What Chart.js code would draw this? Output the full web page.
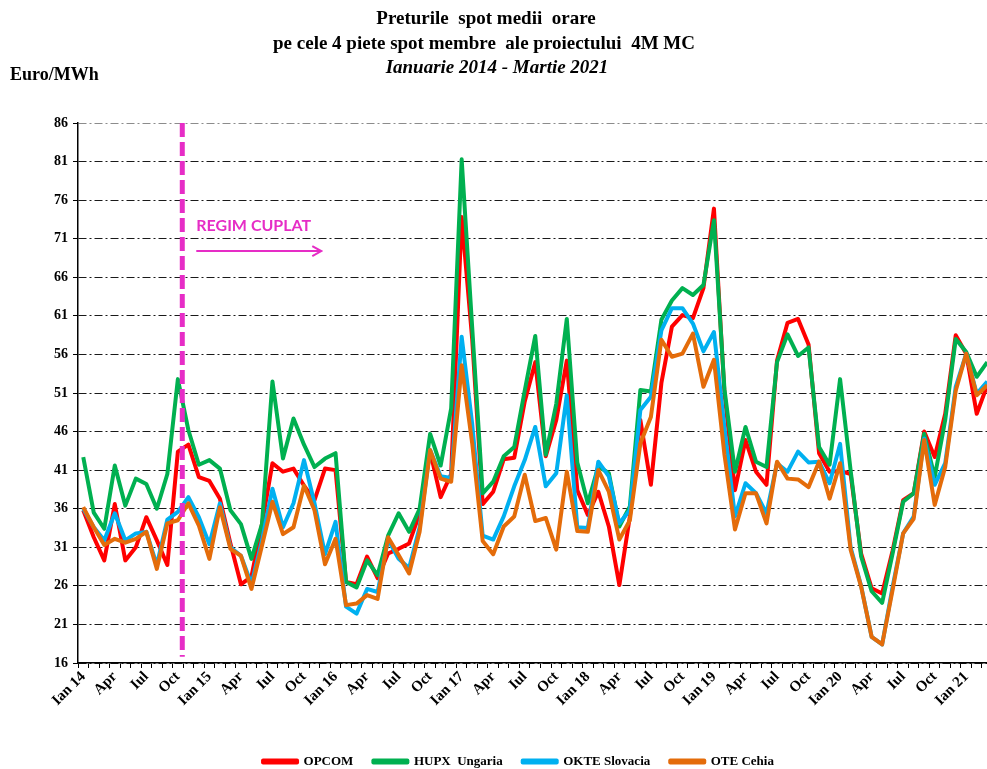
<!DOCTYPE html>
<html>
<head>
<meta charset="utf-8">
<script src="https://cdn.jsdelivr.net/npm/chart.js@4.4.1/dist/chart.umd.min.js"></script>
<style>
  html, body { margin: 0; padding: 0; background: #fff; overflow: hidden; }
  #wrap { position: absolute; left: 0; top: 0; width: 1000px; height: 769px; }
</style>
</head>
<body>
<div id="wrap"><canvas id="spotChart"></canvas></div>
<script>
// luni si ani pentru axa X (Ian 2014 - Mar 2021)
var lunile = ['Ian', 'Feb', 'Mar', 'Apr', 'Mai', 'Iun', 'Iul', 'Aug', 'Sep', 'Oct', 'Noi', 'Dec'];
var anii = ['14', '15', '16', '17', '18', '19', '20', '21'];
var nrLuni = 87;

// preturi medii lunare, Euro/MWh
var opcom = [
  35.8, 32.3, 29.3, 36.6, 29.3, 31.0, 34.9, 31.9, 28.7, 43.4, 44.3, 40.1,
  39.6, 37.3, 31.5, 26.2, 27.2, 34.0, 41.9, 40.8, 41.2, 39.0, 37.1, 41.2,
  41.0, 26.5, 26.2, 29.8, 27.0, 30.2, 30.8, 31.5, 35.4, 43.4, 37.5, 40.5,
  73.8, 58.0, 36.6, 38.2, 42.4, 42.6, 49.9, 55.0, 42.8, 47.5, 55.2, 38.4,
  35.2, 38.2, 33.7, 26.1, 35.0, 47.5, 39.1, 52.3, 59.6, 61.1, 60.7, 64.6,
  74.9, 51.0, 38.4, 44.9, 40.8, 39.1, 55.2, 60.1, 60.6, 57.3, 43.2, 40.8,
  40.9, 40.5, 30.2, 25.7, 25.0, 30.6, 37.1, 38.0, 46.0, 42.7, 48.3, 58.5,
  56.1, 48.3, 52.0
];
var hupx = [
  42.7, 35.5, 33.4, 41.6, 36.4, 39.9, 39.2, 36.0, 40.5, 52.8, 46.2, 41.7,
  42.3, 41.2, 35.8, 34.0, 29.5, 34.0, 52.5, 42.5, 47.7, 44.3, 41.4, 42.5,
  43.2, 26.5, 25.8, 29.3, 27.4, 32.5, 35.4, 33.0, 36.0, 45.7, 41.6, 49.0,
  81.3, 59.5, 38.0, 39.5, 42.8, 44.0, 51.3, 58.4, 43.0, 49.6, 60.6, 42.0,
  36.7, 41.5, 40.6, 33.7, 36.3, 51.4, 51.2, 60.5, 63.0, 64.6, 63.7, 65.0,
  73.4, 51.5, 40.8, 46.6, 42.1, 41.4, 55.0, 58.6, 55.8, 56.9, 44.0, 41.7,
  52.8, 41.0, 29.8, 25.3, 23.8, 30.2, 36.9, 38.0, 45.7, 40.1, 47.5, 58.0,
  56.3, 53.1, 55.0
];
var okte = [
  36.0, 33.6, 31.9, 35.4, 31.9, 32.8, 33.0, 28.7, 34.6, 35.6, 37.5, 34.9,
  31.4, 36.7, 31.0, 29.9, 26.2, 31.9, 38.6, 33.6, 36.7, 42.3, 36.7, 30.1,
  34.3, 23.3, 22.4, 25.6, 25.2, 32.0, 29.5, 28.3, 33.6, 43.6, 40.2, 40.0,
  58.3, 47.0, 32.5, 32.0, 35.0, 38.9, 42.3, 46.6, 38.9, 40.6, 50.7, 33.6,
  33.5, 42.1, 40.2, 34.1, 35.8, 48.8, 50.5, 59.1, 62.0, 62.0, 60.0, 56.4,
  58.9, 46.5, 35.0, 39.3, 38.0, 35.4, 41.9, 40.8, 43.4, 42.0, 42.1, 39.3,
  44.4, 31.0, 26.0, 19.4, 18.4, 25.9, 32.8, 35.0, 45.1, 39.1, 41.9, 51.8,
  56.1, 50.9, 52.5
];
var ote = [
  36.2, 33.6, 31.3, 32.1, 31.6, 32.1, 33.0, 28.2, 34.1, 34.5, 36.7, 33.8,
  29.5, 36.2, 30.8, 29.9, 25.6, 31.2, 36.9, 32.7, 33.6, 39.0, 35.8, 28.8,
  32.1, 23.5, 23.7, 24.8, 24.3, 32.3, 30.0, 27.6, 33.0, 43.6, 39.9, 39.5,
  54.6, 44.5, 31.8, 30.1, 33.7, 35.0, 40.4, 34.4, 34.8, 30.7, 40.8, 33.1,
  33.0, 41.0, 38.2, 32.0, 34.5, 44.5, 47.9, 57.9, 55.7, 56.1, 58.7, 51.8,
  55.3, 43.0, 33.3, 38.0, 38.0, 34.1, 42.1, 39.9, 39.8, 38.8, 42.1, 37.3,
  41.9, 30.7, 25.9, 19.4, 18.4, 25.5, 32.8, 34.7, 44.9, 36.5, 41.4, 51.3,
  56.1, 50.7, 52.0
];

var yMin = 16, yMax = 86, yPas = 5;
var indexCuplare = 9; // Oct 2014 - inceput regim cuplat

var SERIF = "'Liberation Serif', 'Times New Roman', serif";
var MAGENTA = '#E62DC6';

var etichete = [];
for (var i = 0; i < nrLuni; i++) {
  var l = i % 12;
  etichete.push(l === 0 ? lunile[l] + ' ' + anii[Math.floor(i / 12)] : lunile[l]);
}

function serie(nume, date, culoare, ordine) {
  return {
    label: nume,
    data: date,
    borderColor: culoare,
    backgroundColor: culoare,
    borderWidth: 4,
    pointRadius: 0,
    pointHoverRadius: 0,
    tension: 0,
    fill: false,
    order: ordine,
    borderJoinStyle: 'round'
  };
}

// titluri, linia de cuplare si mutarea legendei
var decor = {
  id: 'decor',
  afterLayout: function(chart) {
    var lg = chart.legend;
    lg.left += 20; lg.right += 20;
    lg.top += 9; lg.bottom += 9;
  },
  afterDatasetsDraw: function(chart) {
    var ctx = chart.ctx, x = chart.scales.x, y = chart.scales.y;
    var pas = x.getPixelForValue(1) - x.getPixelForValue(0);
    var xc = x.getPixelForValue(indexCuplare) + 0.42 * pas;

    ctx.save();
    ctx.strokeStyle = MAGENTA;
    ctx.lineWidth = 5;
    ctx.setLineDash([14, 5]);
    ctx.beginPath();
    ctx.moveTo(xc, chart.chartArea.top);
    ctx.lineTo(xc, y.getPixelForValue(16.8));
    ctx.stroke();

    ctx.setLineDash([]);
    ctx.fillStyle = MAGENTA;
    ctx.font = "bold 16px Lato, 'Liberation Sans', sans-serif";
    ctx.textAlign = 'left';
    ctx.textBaseline = 'middle';
    ctx.fillText('REGIM CUPLAT', xc + 14, y.getPixelForValue(72.7));

    var ya = y.getPixelForValue(69.4);
    var x0 = xc + 14, x1 = xc + 139;
    ctx.lineWidth = 2;
    ctx.beginPath();
    ctx.moveTo(x0, ya); ctx.lineTo(x1, ya);
    ctx.moveTo(x1 - 9, ya - 5); ctx.lineTo(x1, ya); ctx.lineTo(x1 - 9, ya + 5);
    ctx.stroke();
    ctx.restore();
  },
  afterDraw: function(chart) {
    var ctx = chart.ctx;
    ctx.save();
    ctx.fillStyle = '#000';
    ctx.textAlign = 'center';
    ctx.textBaseline = 'middle';
    ctx.font = 'bold 19px ' + SERIF;
    ctx.fillText('Preturile  spot medii  orare', 486, 19);
    ctx.fillText('pe cele 4 piete spot membre  ale proiectului  4M MC', 484, 44);
    ctx.font = 'italic bold 19px ' + SERIF;
    ctx.fillText('Ianuarie 2014 - Martie 2021', 497, 68);
    ctx.textAlign = 'left';
    ctx.font = 'bold 18px ' + SERIF;
    ctx.fillText('Euro/MWh', 10, 75);
    ctx.restore();
  }
};

var ctx = document.getElementById('spotChart').getContext('2d');
window.spotChart = new Chart(ctx, {
  type: 'line',
  data: {
    labels: etichete,
    datasets: [
      serie('OPCOM', opcom, '#FF0000', 3),
      serie('HUPX  Ungaria', hupx, '#00B050', 2),
      serie('OKTE Slovacia', okte, '#00B0F0', 1),
      serie('OTE Cehia', ote, '#E46C0A', 0)
    ]
  },
  options: {
    responsive: true,
    maintainAspectRatio: false,
    animation: false,
    layout: { padding: { top: 123, left: 0, right: 3, bottom: 0 } },
    plugins: {
      title: { display: false },
      tooltip: { enabled: false },
      legend: {
        position: 'bottom',
        labels: {
          color: '#000',
          boxWidth: 34,
          boxHeight: 2,
          padding: 20,
          font: { family: SERIF, size: 13, weight: 'bold' },
          sort: function(a, b) { return a.datasetIndex - b.datasetIndex; }
        }
      }
    },
    scales: {
      x: {
        type: 'category',
        offset: true,
        grid: { offset: true, drawOnChartArea: false, drawTicks: true, tickLength: 5, tickColor: '#000', tickWidth: 1 },
        border: { display: true, color: '#000', width: 1.5 },
        ticks: {
          autoSkip: false,
          maxRotation: 45,
          minRotation: 45,
          padding: 0,
          color: '#000',
          font: { family: SERIF, size: 15, weight: 'bold' },
          callback: function(v, i) { return i % 3 === 0 ? this.getLabelForValue(v) : ''; }
        },
        afterFit: function(s) { s.height = 63; }
      },
      y: {
        min: yMin,
        max: yMax,
        ticks: {
          stepSize: yPas,
          color: '#000',
          padding: 5,
          font: { family: SERIF, size: 14, weight: 'bold' }
        },
        grid: {
          color: function(c) { return c.tick && c.tick.value === yMax ? '#8c8c8c' : '#1a1a1a'; },
          lineWidth: 1,
          tickLength: 5,
          tickColor: '#000',
          tickBorderDash: []
        },
        border: { display: true, color: '#000', width: 1.5, dash: [8, 3, 2, 3] },
        afterFit: function(s) { s.width = 78; }
      }
    }
  },
  plugins: [decor]
});
</script>
</body>
</html>
